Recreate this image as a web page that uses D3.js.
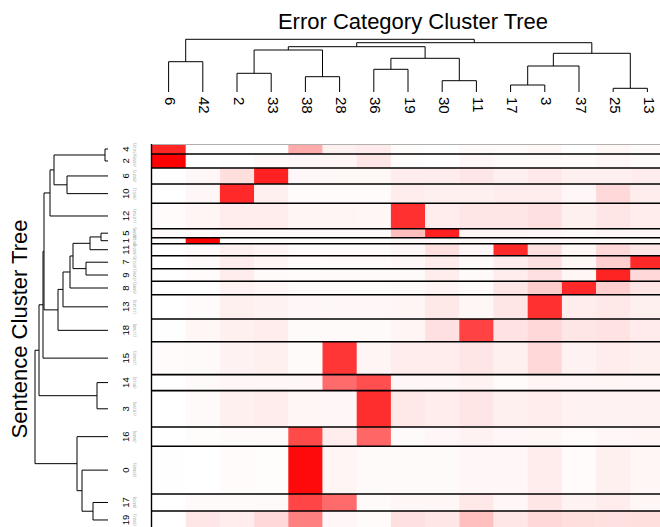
<!DOCTYPE html>
<html>
<head>
<meta charset="utf-8">
<script src="https://cdn.jsdelivr.net/npm/d3@7"></script>
<style>
  html, body { margin: 0; padding: 0; background: #fff; overflow: hidden; }
  svg { display: block; font-family: "Liberation Sans", Arial, Helvetica, sans-serif; }
</style>
</head>
<body>
<div id="chart"></div>
<script>
// Error categories (columns), in dendrogram order.
const colLabels = ["6", "42", "2", "33", "38", "28", "36", "19", "30", "11", "17", "3", "37", "25", "13"];

// Sentence clusters (rows), in dendrogram order, with their sentence counts.
const rowLabels = ["4", "2", "6", "10", "12", "5", "1", "11", "7", "9", "8", "13", "18", "15", "14", "3", "16", "0", "17", "19"];
const rowCounts = [5012, 6958, 8027, 9651, 12704, 4498, 3011, 6003, 6512, 6296, 6689, 12149, 11348, 16460, 8012, 18198, 9648, 23849, 8493, 9021];

// Share of each cluster falling in each error category (one row per cluster).
const cellValues = [
  [0.85, 0, 0, 0, 0.33, 0.06, 0.08, 0.01, 0, 0.02, 0.015, 0.035, 0, 0.035, 0.02],
  [1.0, 0, 0.005, 0.02, 0.03, 0.04, 0.1, 0.01, 0, 0.03, 0.02, 0.02, 0.015, 0.03, 0.02],
  [0, 0.03, 0.13, 0.87, 0.03, 0.035, 0.035, 0.075, 0.07, 0.1, 0.06, 0.09, 0.06, 0.06, 0.07],
  [0, 0.03, 0.84, 0.06, 0.015, 0.015, 0.015, 0.07, 0.06, 0.06, 0.075, 0.075, 0.03, 0.15, 0.075],
  [0.015, 0.04, 0.075, 0.07, 0.04, 0.04, 0.035, 0.81, 0.07, 0.1, 0.1, 0.12, 0.06, 0.1, 0.07],
  [0.02, 0.02, 0.02, 0.02, 0.02, 0.02, 0.02, 0.25, 0.87, 0.04, 0.04, 0.03, 0.02, 0.03, 0.03],
  [0.01, 1.0, 0.01, 0.01, 0.01, 0.01, 0.01, 0.02, 0.02, 0.02, 0.02, 0.02, 0.02, 0.02, 0.02],
  [0, 0.02, 0.06, 0.04, 0.015, 0.015, 0.015, 0.03, 0.12, 0.03, 0.84, 0.12, 0.035, 0.15, 0.1],
  [0, 0.02, 0.07, 0.04, 0.015, 0.02, 0.02, 0.03, 0.075, 0.02, 0.07, 0.12, 0.035, 0.19, 0.84],
  [0, 0.015, 0.075, 0.02, 0.015, 0.02, 0.02, 0.02, 0.075, 0.02, 0.07, 0.12, 0.035, 0.86, 0.15],
  [0, 0, 0.05, 0.035, 0.015, 0.015, 0.01, 0.02, 0.04, 0.015, 0.1, 0.2, 0.84, 0.19, 0.1],
  [0, 0.015, 0.06, 0.05, 0.03, 0.03, 0.03, 0.04, 0.09, 0.035, 0.1, 0.81, 0.07, 0.09, 0.06],
  [0.005, 0.035, 0.06, 0.07, 0.02, 0.02, 0.02, 0.04, 0.12, 0.74, 0.11, 0.15, 0.1, 0.11, 0.08],
  [0.015, 0.02, 0.05, 0.06, 0.02, 0.79, 0.04, 0.075, 0.07, 0.1, 0.06, 0.15, 0.05, 0.075, 0.06],
  [0, 0.02, 0.03, 0.03, 0.03, 0.58, 0.69, 0.03, 0.03, 0.05, 0.015, 0.04, 0.03, 0.035, 0.03],
  [0, 0.02, 0.06, 0.07, 0.035, 0.03, 0.82, 0.09, 0.07, 0.1, 0.06, 0.07, 0.05, 0.05, 0.05],
  [0, 0.01, 0.02, 0.02, 0.71, 0.07, 0.6, 0.02, 0.03, 0.05, 0.03, 0.035, 0.015, 0.03, 0.04],
  [0.005, 0, 0.015, 0.01, 0.96, 0.04, 0.02, 0.02, 0.02, 0.03, 0.03, 0.07, 0.015, 0.06, 0.035],
  [0, 0.02, 0.02, 0.02, 0.73, 0.58, 0.02, 0.035, 0.035, 0.09, 0.03, 0.1, 0.05, 0.07, 0.035],
  [0, 0.1, 0.075, 0.15, 0.5, 0.03, 0.015, 0.12, 0.1, 0.25, 0.1, 0.15, 0.13, 0.12, 0.13]
];

// hclust-style merges [left, right, height]: strings are leaves,
// numbers point back to an earlier merge in the same list.
const colMerges = [
  ["6", "42", 30.3],
  ["2", "33", 18.7],
  ["38", "28", 15.3],
  [1, 2, 42],
  ["36", "19", 22.7],
  ["30", "11", 11.3],
  [4, 5, 33.7],
  [3, 6, 45.3],
  ["17", "3", 7],
  [8, "37", 26],
  ["25", "13", 3.7],
  [9, 10, 38.7],
  [7, 11, 49.3],
  [0, 12, 52.7]
];
const rowMerges = [
  ["4", "2", 3],
  ["6", "10", 41],
  [0, 1, 54],
  [2, "12", 58],
  ["5", "1", 7],
  [4, "11", 18],
  ["7", "9", 22],
  [5, 6, 35],
  [7, "8", 38],
  [8, "13", 45],
  [9, "18", 50],
  [3, 10, 64],
  [11, "15", 65],
  ["14", "3", 11],
  [12, 13, 69],
  ["17", "19", 15],
  ["0", 15, 26],
  ["16", 16, 31],
  [14, 17, 73]
];

const width = 660;
const height = 527;

const svg = d3.select("#chart").append("svg")
  .attr("width", width)
  .attr("height", height);

// Scales
const x = d3.scaleBand().domain(colLabels).range([151.5, 151.5 + 34.2 * colLabels.length]);
const total = d3.sum(rowCounts);
const yCum = d3.scaleLinear().domain([0, total]).range([144, 529]);
const color = d3.scaleLinear().domain([0, 1]).range(["#ffffff", "#ff0000"]);

const rows = rowLabels.map((name, i) => {
  const start = d3.sum(rowCounts.slice(0, i));
  return {
    name,
    count: rowCounts[i],
    y0: yCum(start),
    y1: yCum(start + rowCounts[i]),
    values: cellValues[i]
  };
});

// Heatmap cells
const gRow = svg.append("g").selectAll("g").data(rows).join("g");
gRow.selectAll("rect")
  .data(d => d.values.map((v, j) => ({ v, col: colLabels[j], y0: d.y0, y1: d.y1 })))
  .join("rect")
  .attr("x", d => x(d.col))
  .attr("y", d => d.y0)
  .attr("width", x.bandwidth() + 0.3)
  .attr("height", d => d.y1 - d.y0)
  .attr("fill", d => color(d.v));

// row separators
svg.append("line")
  .attr("x1", x.range()[0]).attr("x2", width)
  .attr("y1", rows[0].y0 + 0.5).attr("y2", rows[0].y0 + 0.5)
  .attr("stroke", "#b0b0b0").attr("stroke-width", 1);
svg.append("g").selectAll("line")
  .data(rows.slice(1))
  .join("line")
  .attr("x1", x.range()[0]).attr("x2", width)
  .attr("y1", d => d.y0).attr("y2", d => d.y0)
  .attr("stroke", "#000").attr("stroke-width", 1.6);
svg.append("line")
  .attr("x1", x.range()[0]).attr("x2", x.range()[0])
  .attr("y1", rows[0].y0).attr("y2", height)
  .attr("stroke", "#000").attr("stroke-width", 1.4);

// Dendrograms
function buildTree(merges) {
  const nodes = [];
  const ref = m => (typeof m === "number" ? nodes[m] : { name: m });
  merges.forEach(m => nodes.push({ h: m[2], children: [ref(m[0]), ref(m[1])] }));
  return d3.hierarchy(nodes[nodes.length - 1]);
}

function layoutTree(root, leafPos) {
  root.eachAfter(n => {
    n.h = n.data.h || 0;
    n.pos = n.children ? d3.mean(n.children, c => c.pos) : leafPos(n.data.name);
  });
  return root.descendants().filter(n => n.children);
}

// top: error categories
const colTree = buildTree(colMerges);
const hTop = d3.scaleLinear().domain([0, 52.7]).range([92, 39.3]);
const colNodes = layoutTree(colTree, name => x(name) + x.bandwidth() / 2);
svg.append("g")
  .attr("fill", "none").attr("stroke", "#000").attr("stroke-width", 1)
  .selectAll("path").data(colNodes).join("path")
  .attr("d", n => {
    const [a, b] = n.children;
    return `M${a.pos},${hTop(a.h)}V${hTop(n.h)}H${b.pos}V${hTop(b.h)}`;
  });

// left: sentence clusters
const rowTree = buildTree(rowMerges);
const hLeft = d3.scaleLinear().domain([0, 73]).range([108, 35]);
const rowCenter = new Map(rows.map(r => [r.name, (r.y0 + r.y1) / 2]));
const rowNodes = layoutTree(rowTree, name => rowCenter.get(name));
svg.append("g")
  .attr("fill", "none").attr("stroke", "#000").attr("stroke-width", 1)
  .selectAll("path").data(rowNodes).join("path")
  .attr("d", n => {
    const [a, b] = n.children;
    return `M${hLeft(a.h)},${a.pos}H${hLeft(n.h)}V${b.pos}H${hLeft(b.h)}`;
  });

// Labels
svg.append("g").selectAll("text")
  .data(colLabels).join("text")
  .attr("transform", d => `translate(${x(d) + x.bandwidth() / 2 + 2},97) rotate(90)`)
  .attr("dominant-baseline", "central")
  .attr("font-size", 15)
  .text(d => d);

const rowLab = svg.append("g").selectAll("g").data(rows).join("g");
rowLab.append("text")
  .attr("transform", d => `translate(125,${(d.y0 + d.y1) / 2}) rotate(-90)`)
  .attr("text-anchor", "middle")
  .attr("dominant-baseline", "central")
  .attr("font-size", 9.5)
  .text(d => d.name);
rowLab.append("text")
  .attr("transform", d => `translate(134.5,${(d.y0 + d.y1) / 2}) rotate(-90)`)
  .attr("text-anchor", "middle")
  .attr("dominant-baseline", "central")
  .attr("font-size", 4)
  .attr("fill", "#999")
  .text(d => `(${d.count})`);

svg.append("text")
  .attr("x", 413).attr("y", 29)
  .attr("text-anchor", "middle")
  .attr("font-size", 22)
  .text("Error Category Cluster Tree");

svg.append("text")
  .attr("transform", "translate(27,329) rotate(-90)")
  .attr("text-anchor", "middle")
  .attr("font-size", 22)
  .text("Sentence Cluster Tree");
</script>
</body>
</html>
